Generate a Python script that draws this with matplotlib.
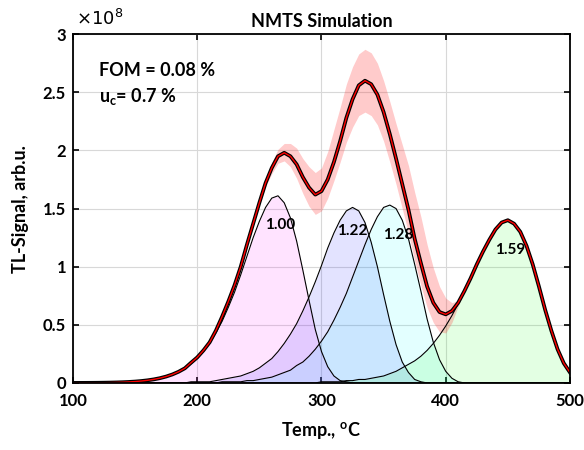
import numpy as np
import matplotlib
matplotlib.use('Agg')
import matplotlib.pyplot as plt

plt.rcParams['font.family'] = ['Lato', 'DejaVu Sans']
plt.rcParams['mathtext.fontset'] = 'custom'
plt.rcParams['mathtext.rm'] = 'Lato:bold'
plt.rcParams['mathtext.bf'] = 'Lato:bold'
plt.rcParams['mathtext.it'] = 'Lato:bold'

# Temperature grid (deg C), 100..500 every 5 deg
temps = np.arange(100, 501, 5)

# Glow-peak components (units of 1e8, arb.u.)
peak1 = [0.0003, 0.0005, 0.0007, 0.001, 0.0015, 0.0022, 0.0031, 0.0044, 0.0062, 0.0087,
         0.012, 0.0166, 0.0227, 0.0307, 0.0413, 0.0553, 0.0733, 0.0965, 0.126, 0.164,
         0.21, 0.27, 0.34, 0.43, 0.53, 0.65, 0.78, 0.93, 1.09, 1.25,
         1.39, 1.51, 1.59, 1.61, 1.55, 1.42, 1.22, 0.97, 0.71, 0.46,
         0.27, 0.14, 0.06, 0.02, 0.01, 0, 0, 0, 0, 0,
         0, 0, 0, 0, 0, 0, 0, 0, 0, 0,
         0, 0, 0, 0, 0, 0, 0, 0, 0, 0,
         0, 0, 0, 0, 0, 0, 0, 0, 0, 0,
         0]
peak2 = [0, 0, 0, 0, 0, 0, 0, 0, 0, 0,
         0, 0, 0, 0, 0, 0, 0, 0, 0, 0.01,
         0.01, 0.01, 0.01, 0.02, 0.03, 0.04, 0.05, 0.06, 0.08, 0.10,
         0.13, 0.17, 0.21, 0.27, 0.34, 0.42, 0.51, 0.62, 0.74, 0.87,
         1.01, 1.16, 1.29, 1.40, 1.48, 1.51, 1.48, 1.38, 1.21, 1.00,
         0.76, 0.53, 0.33, 0.18, 0.09, 0.03, 0.01, 0, 0, 0,
         0, 0, 0, 0, 0, 0, 0, 0, 0, 0,
         0, 0, 0, 0, 0, 0, 0, 0, 0, 0,
         0]
peak3 = [0, 0, 0, 0, 0, 0, 0, 0, 0, 0,
         0, 0, 0, 0, 0, 0, 0, 0, 0, 0,
         0, 0, 0, 0, 0.01, 0.01, 0.01, 0.01, 0.02, 0.02,
         0.03, 0.04, 0.05, 0.07, 0.09, 0.11, 0.15, 0.18, 0.23, 0.29,
         0.36, 0.44, 0.54, 0.65, 0.77, 0.91, 1.05, 1.19, 1.32, 1.43,
         1.51, 1.53, 1.50, 1.40, 1.24, 1.02, 0.79, 0.55, 0.35, 0.20,
         0.10, 0.04, 0.01, 0, 0, 0, 0, 0, 0, 0,
         0, 0, 0, 0, 0, 0, 0, 0, 0, 0,
         0]
peak4 = [0, 0, 0, 0, 0, 0, 0, 0, 0, 0,
         0, 0, 0, 0, 0, 0, 0, 0, 0, 0,
         0, 0, 0, 0, 0, 0, 0, 0, 0, 0,
         0, 0, 0, 0, 0, 0, 0, 0, 0, 0,
         0.01, 0.01, 0.01, 0.01, 0.02, 0.02, 0.03, 0.03, 0.04, 0.05,
         0.06, 0.08, 0.10, 0.13, 0.16, 0.19, 0.23, 0.28, 0.34, 0.41,
         0.49, 0.58, 0.68, 0.79, 0.90, 1.02, 1.13, 1.23, 1.32, 1.38,
         1.40, 1.37, 1.30, 1.18, 1.02, 0.83, 0.63, 0.45, 0.29, 0.17,
         0.09]
peak_labels = ['1.00', '1.22', '1.28', '1.59']

# Uncertainty band around the fitted sum (offsets above / below), 240..420 deg C
band_temps = np.arange(240, 421, 5)
band_above = [0, 0.01, 0.02, 0.03, 0.05, 0.06, 0.08, 0.11, 0.14, 0.16,
              0.18, 0.19, 0.20, 0.24, 0.28, 0.29, 0.29, 0.28, 0.27, 0.27,
              0.27, 0.27, 0.27, 0.28, 0.30, 0.34, 0.38, 0.40, 0.40, 0.36,
              0.30, 0.22, 0.14, 0.07, 0.02, 0, 0]
band_below = [0, 0.01, 0.02, 0.03, 0.05, 0.06, 0.07, 0.09, 0.12, 0.14,
              0.16, 0.17, 0.17, 0.16, 0.16, 0.18, 0.21, 0.24, 0.26, 0.27,
              0.27, 0.26, 0.25, 0.24, 0.22, 0.21, 0.20, 0.19, 0.19, 0.18,
              0.17, 0.17, 0.16, 0.10, 0.03, 0, 0]

comps = [np.array(p) for p in (peak1, peak2, peak3, peak4)]
total = np.sum(comps, axis=0)
tot_b = total[np.searchsorted(temps, band_temps)]

fig = plt.figure(figsize=(5.84, 4.5), dpi=100)
ax = fig.add_axes([0.125, 0.149, 0.851, 0.775])
fills = ['#ff00ff', '#0000ff', '#00ffff', '#00ff00']
for c, col in zip(comps, fills):
    ax.fill_between(temps, 0, c, color=col, alpha=0.11, lw=0)
ax.fill_between(band_temps, tot_b - np.array(band_below), tot_b + np.array(band_above),
                color='#ff3030', alpha=0.25, lw=0)
for c in comps:
    ax.plot(temps, c, color='black', lw=0.8)
ax.plot(temps, total, color='black', lw=2.7, solid_joinstyle='round')
ax.plot(temps, total, color='red', lw=1.0)

label_dx = [2, 0, 7, 2]
label_dy = [-0.25, -0.2, -0.26, -0.255]
for lab, c, dx, dy in zip(peak_labels, comps, label_dx, label_dy):
    i = int(np.argmax(c))
    ax.text(temps[i] + dx, c[i] + dy, lab, ha='center', va='center', fontsize=11, fontweight='bold')

ax.set_xlim(100, 500)
ax.set_ylim(0, 3)
ax.set_xticks([100, 200, 300, 400, 500])
ax.set_yticks([0, 0.5, 1, 1.5, 2, 2.5, 3])
ax.set_yticklabels(['0', '0.5', '1', '1.5', '2', '2.5', '3'])
ax.grid(True, color='#d8d8d8', lw=0.8)
ax.set_axisbelow(True)
ax.tick_params(direction='in', top=True, right=True, labelsize=12, width=1.2, length=4, pad=5)
ax.tick_params(axis='x', pad=7)
for lab in ax.get_xticklabels() + ax.get_yticklabels():
    lab.set_fontweight('bold')
for sp in ax.spines.values():
    sp.set_linewidth(1.3)
ax.set_xlabel('Temp., $^{\\mathrm{o}}$C', fontsize=13, fontweight='bold', labelpad=8)
ax.set_ylabel('TL-Signal, arb.u.', fontsize=13, fontweight='bold', labelpad=10)
ax.set_title('NMTS Simulation', fontsize=13, fontweight='bold', pad=5)
ax.text(0.006, 1.018, r'$\times10^{8}$', transform=ax.transAxes, fontsize=13,
        math_fontfamily='dejavusans', va='bottom')
ax.text(0.052, 0.897, 'FOM = 0.08 %', transform=ax.transAxes, fontsize=13, fontweight='bold', va='center')
ax.text(0.052, 0.82, 'u$_{\\mathrm{c}}$= 0.7 %', transform=ax.transAxes, fontsize=13, fontweight='bold', va='center')
fig.savefig('out.png', dpi=100)
